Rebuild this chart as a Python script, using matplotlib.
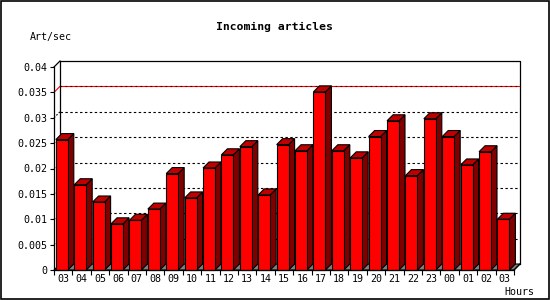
import matplotlib
matplotlib.use("Agg")
import matplotlib.pyplot as plt
from matplotlib.patches import Polygon, Rectangle

# hourly rate of incoming articles
hours = ["03", "04", "05", "06", "07", "08", "09", "10", "11", "12", "13", "14",
         "15", "16", "17", "18", "19", "20", "21", "22", "23", "00", "01", "02", "03"]
art_sec = [0.0257, 0.0168, 0.0134, 0.0091, 0.0098, 0.0120, 0.0190, 0.0142, 0.0201,
           0.0227, 0.0243, 0.0148, 0.0247, 0.0235, 0.0351, 0.0235, 0.0221, 0.0263,
           0.0294, 0.0186, 0.0298, 0.0263, 0.0207, 0.0233, 0.0100]
yticks = [0, 0.005, 0.01, 0.015, 0.02, 0.025, 0.03, 0.035, 0.04]
ytick_labels = ["0", "0.005", "0.01", "0.015", "0.02", "0.025", "0.03", "0.035", "0.04"]
grid_levels = [0.005, 0.01, 0.015, 0.02, 0.025, 0.03]
max_level = 0.035

plt.rcParams['font.family'] = ['DejaVu Sans Mono']

fig = plt.figure(figsize=(5.5, 3.0), dpi=100)
ax = fig.add_axes([54 / 550, 30 / 300, 460 / 550, 203 / 300])
n = len(art_sec)
ymax = 0.04
ax.set_xlim(0, n)
ax.set_ylim(0, ymax)

# depth of the fake 3d look, in data units (6 px)
dx = 6 / (460 / n)
dy = 6 / 203 * ymax

# floor
ax.add_patch(Polygon([(0, 0), (n, 0), (n + dx, dy), (dx, dy)], closed=True,
                     facecolor="#808080", edgecolor="black", lw=0.8, zorder=1, clip_on=False))

# back wall grid
for g in grid_levels:
    ax.plot([dx, n + dx], [g + dy, g + dy], color="black", lw=0.8,
            ls=(0, (2.2, 2.2)), zorder=1, clip_on=False)
    ax.plot([0, dx], [g, g + dy], color="black", lw=0.8, ls=(0, (1.5, 1.5)),
            zorder=1, clip_on=False)
ax.plot([dx, n + dx], [max_level + dy] * 2, color="red", lw=0.8, zorder=1, clip_on=False)
ax.plot([dx, n + dx], [max_level + dy] * 2, color="#400000", lw=0.8,
        ls=(0, (1.5, 3)), zorder=1, clip_on=False)
ax.plot([0, dx], [max_level, max_level + dy], color="red", lw=0.8, zorder=1, clip_on=False)

# back wall frame
ax.plot([dx, dx, n + dx, n + dx], [dy, ymax + dy, ymax + dy, dy],
        color="black", lw=0.9, zorder=1, clip_on=False)
ax.plot([0, dx], [ymax, ymax + dy], color="black", lw=0.9, zorder=1, clip_on=False)
ax.plot([n, n + dx], [0, dy], color="black", lw=0.9, zorder=1, clip_on=False)

# 3d bars
off = 0.1
w = 0.65
for i, v in enumerate(art_sec):
    x0 = i + off
    x1 = x0 + w
    front = [(x0, 0), (x1, 0), (x1, v), (x0, v)]
    side = [(x1, 0), (x1 + dx, dy), (x1 + dx, v + dy), (x1, v)]
    top = [(x0, v), (x1, v), (x1 + dx, v + dy), (x0 + dx, v + dy)]
    ax.add_patch(Polygon(side, closed=True, facecolor="#800000", edgecolor="black",
                         lw=0.8, zorder=3 + i, clip_on=False))
    ax.add_patch(Polygon(top, closed=True, facecolor="#c00000", edgecolor="black",
                         lw=0.8, zorder=3 + i, clip_on=False))
    ax.add_patch(Polygon(front, closed=True, facecolor="#ff0000", edgecolor="black",
                         lw=0.8, zorder=3 + i, clip_on=False))

for s in ["top", "right"]:
    ax.spines[s].set_visible(False)
for s in ["left", "bottom"]:
    ax.spines[s].set_linewidth(0.9)
    ax.spines[s].set_zorder(40)
ax.patch.set_visible(False)

ax.set_yticks(yticks, ytick_labels)
ax.tick_params(axis="y", length=3, width=0.8, pad=2, labelsize=7.2)
ax.set_xticks(range(n + 1), [""] * (n + 1))
ax.set_xticks([i + 0.5 for i in range(n)], hours, minor=True)
ax.tick_params(axis="x", which="major", length=3.6, width=0.8)
ax.tick_params(axis="x", which="minor", length=0, pad=3, labelsize=7.2)

fig.text(274 / 550, 1 - 27 / 300, "Incoming articles", ha="center", va="center",
         fontsize=8.2, fontweight="bold")
fig.text(30 / 550, 1 - 37 / 300, "Art/sec", ha="left", va="center", fontsize=7.2)
fig.text(504 / 550, 1 - 292 / 300, "Hours", ha="left", va="center", fontsize=7.2)

fig.patches.append(Rectangle((0.001, 0.002), 0.997, 0.995, transform=fig.transFigure,
                             fill=False, edgecolor="black", lw=1.2))

fig.savefig("out.png", dpi=100)
